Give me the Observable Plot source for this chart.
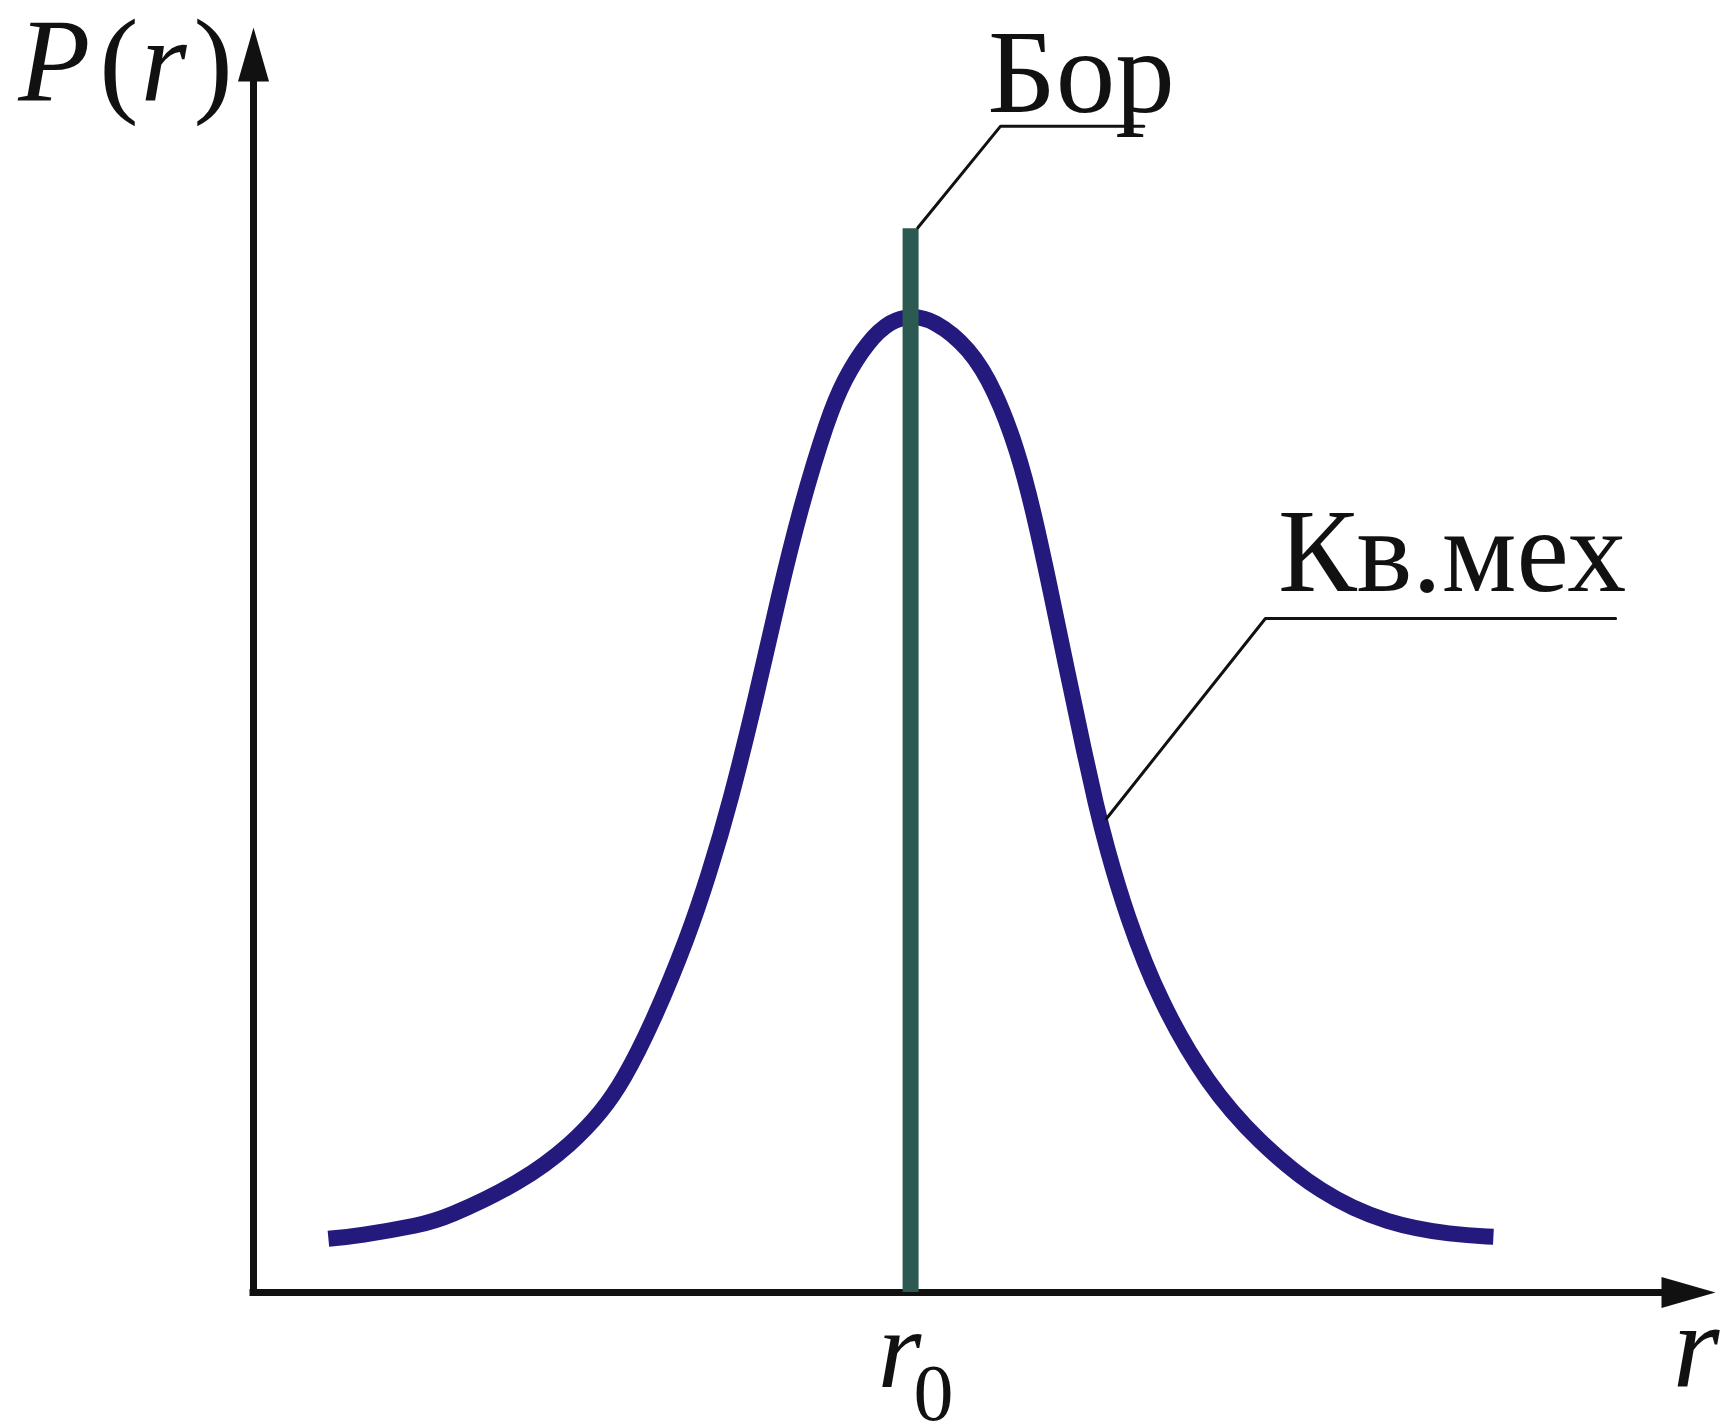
<!DOCTYPE html>
<html>
<head>
<meta charset="utf-8">
<script src="https://cdn.jsdelivr.net/npm/d3@7"></script>
<script src="https://cdn.jsdelivr.net/npm/@observablehq/plot@0.6"></script>
<style>
  html, body { margin: 0; padding: 0; background: #ffffff; }
  #chart svg { display: block; }
  #chart svg text { font-family: "Liberation Serif", "Times New Roman", Times, serif !important; }
</style>
</head>
<body>
<div id="chart"></div>
<script>
// Radial probability density P(r): quantum-mechanical curve vs. Bohr orbit radius r0.
// r is measured in units of r0, P in units of the curve maximum.

// Quantum-mechanical distribution, sampled along the curve
const qmR = [0.114, 0.160, 0.254, 0.292, 0.409, 0.486, 0.531, 0.562, 0.607, 0.662,
             0.693, 0.725, 0.767, 0.799, 0.833, 0.874, 0.898, 0.935, 0.970, 1.000,
             1.035, 1.090, 1.129, 1.163, 1.187, 1.213, 1.239, 1.266, 1.282, 1.297,
             1.329, 1.379, 1.452, 1.528, 1.624, 1.726, 1.826, 1.887];
const qmP = [0.055, 0.058, 0.069, 0.076, 0.113, 0.153, 0.186, 0.216, 0.275, 0.365,
             0.428, 0.500, 0.615, 0.712, 0.805, 0.895, 0.934, 0.974, 0.995, 1.000,
             0.996, 0.967, 0.923, 0.862, 0.800, 0.719, 0.634, 0.548, 0.500, 0.459,
             0.385, 0.298, 0.213, 0.155, 0.101, 0.070, 0.059, 0.057];

// Bohr model: a single radius r0 (drawn as a tall bar)
const bohrR = [1];
const bohrP = [1.089];

// Axis extents (arrow tips)
const rMax = 2.225;
const pMax = 1.295;

// Text labels
const yLabel = "P(r)";
const xLabel = "r";
const tickLabel = "r0";
const bohrLabel = "Бор";
const qmLabel = "Кв.мех";

// Leader lines and label anchors (data units)
const bohrLeaderR = [1.011, 1.137, 1.355];
const bohrLeaderP = [1.090, 1.194, 1.194];
const bohrLabelAt = {r: 1.117, p: 1.208};
const qmLeaderR = [1.298, 1.540, 2.073];
const qmLeaderP = [0.485, 0.690, 0.690];
const qmLabelAt = {r: 1.559, p: 0.7185};
const yLabelAt = {r: -0.358, p: 1.220};
const xLabelAt = {r: 2.160, p: -0.097};
const tickLabelAt = {r: 1, p: -0.097};

const curve = qmR.map((r, i) => ({r, p: qmP[i]}));
const bohr = bohrR.map((r, i) => ({r, p: bohrP[i]}));
const bohrLeader = bohrLeaderR.map((r, i) => ({r, p: bohrLeaderP[i]}));
const qmLeader = qmLeaderR.map((r, i) => ({r, p: qmLeaderP[i]}));

// Filled, elongated arrowhead with its tip at the origin, pointing up
const arrowHead = {
  draw(context) {
    context.moveTo(0, 0);
    context.lineTo(15.5, 54);
    context.lineTo(-15.5, 54);
    context.closePath();
  }
};

const ink = "#111111";
const serif = "Liberation Serif";

const label = (at, text, opts) =>
  Plot.text([at], {x: "r", y: "p", text: () => text, textAnchor: "start",
                   lineAnchor: "bottom", fontFamily: serif, fill: ink, ...opts});

const chart = Plot.plot({
  width: 1725,
  height: 1425,
  marginLeft: 253,
  marginRight: 10,
  marginTop: 27,
  marginBottom: 133,
  x: {domain: [0, rMax], axis: null},
  y: {domain: [0, pMax], axis: null},
  style: {background: "#ffffff", overflow: "visible"},
  marks: [
    // axes
    Plot.ruleX([0], {y1: 0, y2: pMax - 0.03, stroke: ink, strokeWidth: 7}),
    Plot.ruleY([0], {x1: 0, x2: rMax - 0.05, stroke: ink, strokeWidth: 7, strokeLinecap: "square"}),
    Plot.dot([{r: 0, p: pMax}], {x: "r", y: "p", symbol: arrowHead, fill: ink, stroke: null}),
    Plot.dot([{r: rMax, p: 0}], {x: "r", y: "p", symbol: arrowHead, fill: ink, stroke: null, rotate: 90}),

    // quantum-mechanical distribution
    Plot.line(curve, {x: "r", y: "p", stroke: "#24197d", strokeWidth: 16,
                      curve: "basis", strokeLinecap: "butt"}),

    // Bohr orbit
    Plot.ruleX(bohr, {x: "r", y1: 0, y2: "p", stroke: "#2c5a52", strokeWidth: 16}),

    // leader lines
    Plot.line(bohrLeader, {x: "r", y: "p", stroke: ink, strokeWidth: 3}),
    Plot.line(qmLeader, {x: "r", y: "p", stroke: ink, strokeWidth: 3}),

    // labels
    label(bohrLabelAt, bohrLabel, {fontSize: 119}),
    label(qmLabelAt, qmLabel, {fontSize: 118}),
    label(yLabelAt, yLabel, {fontSize: 118}),
    label(xLabelAt, xLabel, {fontSize: 120, fontStyle: "italic"}),
    label(tickLabelAt, tickLabel, {fontSize: 112, textAnchor: "middle", dx: 5})
  ]
});

// Mixed upright / italic runs and the subscript
const SVGNS = "http://www.w3.org/2000/svg";
function setRuns(el, runs) {
  el.textContent = "";
  for (const run of runs) {
    const ts = document.createElementNS(SVGNS, "tspan");
    ts.textContent = run.text;
    if (run.italic) ts.setAttribute("font-style", "italic");
    if (run.size) ts.setAttribute("font-size", run.size);
    if (run.dx) ts.setAttribute("dx", run.dx);
    if (run.dy) ts.setAttribute("dy", run.dy);
    el.appendChild(ts);
  }
}
chart.querySelectorAll("text").forEach((el) => {
  const t = el.textContent;
  if (t === yLabel) {
    setRuns(el, [
      {text: "P", italic: true},
      {text: "(", dx: 9},
      {text: "r", italic: true, dx: 2},
      {text: ")", dx: 7}
    ]);
  } else if (t === tickLabel) {
    setRuns(el, [
      {text: "r", italic: true},
      {text: "0", size: 80, dx: -8, dy: 33}
    ]);
  }
});

document.getElementById("chart").appendChild(chart);
</script>
</body>
</html>
